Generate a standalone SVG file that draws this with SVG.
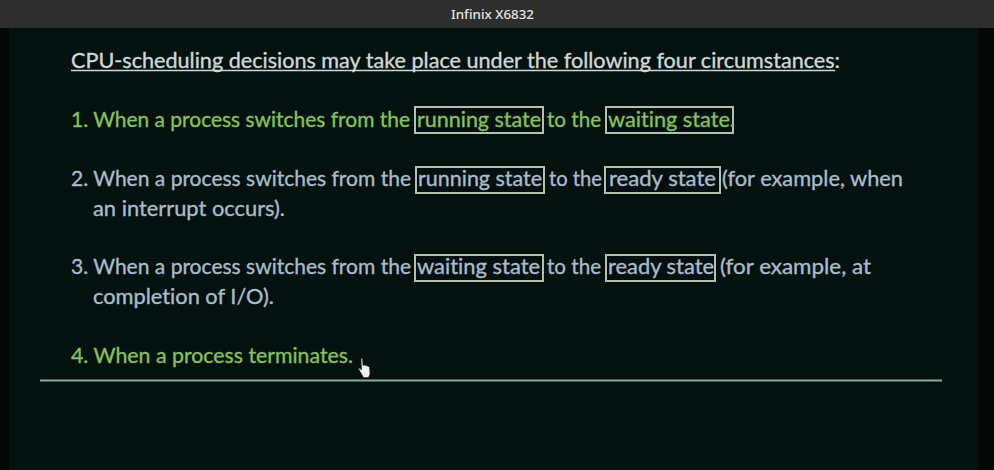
<svg xmlns="http://www.w3.org/2000/svg" width="994" height="470" viewBox="0 0 994 470">
<style>
text{font-family:"Lato","Liberation Sans",sans-serif;font-size:21px;font-variant-ligatures:none;stroke-width:.35}
.g{fill:#86c25a;stroke:#86c25a}
.b{fill:#a9bccb;stroke:#a9bccb}
.h{fill:#cfd8d6;stroke:#cfd8d6}
.box{fill:#03100f;stroke:#b4c0ae;stroke-width:2}
</style>
<rect width="994" height="470" fill="#03110f"/>
<rect x="0" y="28" width="9" height="442" fill="#050706"/>
<rect x="978" y="28" width="16" height="442" fill="#050807"/>
<rect x="0" y="0" width="994" height="28" fill="#2e2e2e"/>
<text x="451" y="19" textLength="83" lengthAdjust="spacingAndGlyphs" style="font-family:'Noto Sans','Open Sans',sans-serif;font-size:13px;font-weight:500" fill="#e4e4e4">Infinix X6832</text>
<g id="heading">
<text class="h" x="71" y="68" textLength="769" lengthAdjust="spacingAndGlyphs">CPU-scheduling decisions may take place under the following four circumstances:</text>
<line x1="71" y1="70.500" x2="835" y2="70.500" stroke="#cfd8d6" stroke-width="1.500"/>
</g>
<g id="item1">
<text class="g" x="71" y="127" textLength="339" lengthAdjust="spacingAndGlyphs">1. When a process switches from the</text>
<rect class="box" x="415" y="107" width="128" height="26"/>
<text class="g" x="417" y="127" textLength="124" lengthAdjust="spacingAndGlyphs">running state</text>
<text class="g" x="547" y="127" textLength="54" lengthAdjust="spacingAndGlyphs">to the</text>
<rect class="box" x="606" y="107" width="127" height="26"/>
<text class="g" x="608" y="127" textLength="127" lengthAdjust="spacingAndGlyphs">waiting state.</text>
</g>
<g id="item2">
<text class="b" x="71" y="186" textLength="340" lengthAdjust="spacingAndGlyphs">2. When a process switches from the</text>
<rect class="box" x="416" y="167" width="128" height="26"/>
<text class="b" x="418" y="186" textLength="124" lengthAdjust="spacingAndGlyphs">running state</text>
<text class="b" x="549" y="186" textLength="53" lengthAdjust="spacingAndGlyphs">to the</text>
<rect class="box" x="605" y="167" width="115" height="26"/>
<text class="b" x="609" y="186" textLength="107" lengthAdjust="spacingAndGlyphs">ready state</text>
<text class="b" x="722" y="186" textLength="181" lengthAdjust="spacingAndGlyphs">(for example, when</text>
<text class="b" x="93" y="216" textLength="192" lengthAdjust="spacingAndGlyphs">an interrupt occurs).</text>
</g>
<g id="item3">
<text class="b" x="71" y="274" textLength="340" lengthAdjust="spacingAndGlyphs">3. When a process switches from the</text>
<rect class="box" x="415" y="255" width="128" height="26"/>
<text class="b" x="417" y="274" textLength="123" lengthAdjust="spacingAndGlyphs">waiting state</text>
<text class="b" x="547" y="274" textLength="54" lengthAdjust="spacingAndGlyphs">to the</text>
<rect class="box" x="606" y="255" width="109" height="26"/>
<text class="b" x="608" y="274" textLength="106" lengthAdjust="spacingAndGlyphs">ready state</text>
<text class="b" x="720" y="274" textLength="151" lengthAdjust="spacingAndGlyphs">(for example, at</text>
<text class="b" x="93" y="304" textLength="181" lengthAdjust="spacingAndGlyphs">completion of I/O).</text>
</g>
<g id="item4">
<text class="g" x="71" y="363" textLength="282" lengthAdjust="spacingAndGlyphs">4. When a process terminates.</text>
</g>
<g id="rule"><line x1="40" y1="380.500" x2="942" y2="380.500" stroke="#7fae9e" stroke-width="2"/></g>
<g id="cursor"><path d="M361 358.500h1.500l.5 7 1.500-.5 3 1 2 1 .5 7-1.500 3.500h-5l-4-7-1.500-2.500 2 .5 1.500 1.500z" fill="#f2f2f2" stroke="#222" stroke-width=".6"/></g>
</svg>
